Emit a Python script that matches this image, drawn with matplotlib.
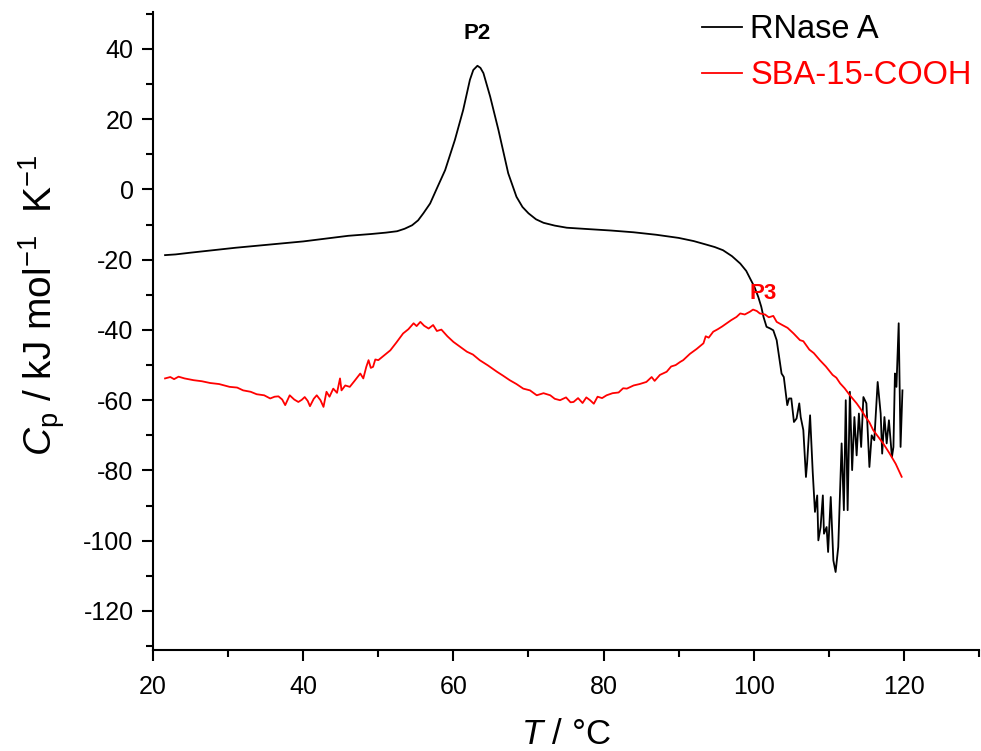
import matplotlib
matplotlib.use("Agg")
import matplotlib.pyplot as plt
from matplotlib.ticker import MultipleLocator

plt.rcParams['font.family'] = ['Liberation Sans', 'DejaVu Sans']
plt.rcParams['mathtext.fontset'] = 'custom'
plt.rcParams['mathtext.rm'] = 'Liberation Sans'
plt.rcParams['mathtext.it'] = 'Liberation Sans:italic'
plt.rcParams['mathtext.bf'] = 'Liberation Sans:bold'
plt.rcParams['axes.unicode_minus'] = False

# RNase A (black)
rnase_T = [21.6, 23, 25, 28, 31, 34, 37, 40, 43, 46, 49, 51, 52.5, 53.5, 54.5, 55.3, 56.0, 56.9,
           57.8, 58.9, 60.2, 61.3, 62.2, 62.65, 63.2, 63.6, 64.0, 64.9, 66.0, 67.3, 68.4, 69.2,
           70.0, 71.0, 72.0, 73.5, 75.1, 78, 81, 84, 87, 90, 92, 93.5, 94.8, 95.9, 97.1, 98.2,
           99.0, 99.5, 100.1, 100.6, 101.0, 101.3, 101.7, 102.2, 102.6,
           103.05, 103.7, 104.0, 104.46, 104.7, 105.0, 105.35, 105.7, 106.06, 106.25, 106.6,
           106.95, 107.1, 107.5, 107.85, 108.15, 108.45, 108.6, 108.9, 109.2, 109.35, 109.7,
           109.9, 110.25, 110.6, 110.9, 111.25, 111.7, 112.0, 112.25, 112.5, 112.8, 113.1,
           113.4, 113.7, 114.0, 114.3, 114.6, 115.0, 115.4, 115.7, 116.05, 116.5, 116.9, 117.1,
           117.4, 117.7, 118.0, 118.4, 118.6, 118.8, 119.0, 119.3, 119.55, 119.8]
rnase_Cp = [-18.7, -18.5, -18.0, -17.3, -16.6, -16.0, -15.4, -14.8, -14.0, -13.2, -12.7, -12.3,
            -11.9, -11.2, -10.2, -8.8, -6.8, -4.0, 0.3, 5.5, 14.1, 22.6, 31.2, 34.0, 35.2, 34.6,
            33.1, 26.4, 16.9, 4.6, -2.1, -5.0, -6.8, -8.5, -9.5, -10.3, -10.9, -11.3, -11.7,
            -12.2, -12.9, -13.8, -14.7, -15.6, -16.4, -17.3, -19.0, -21.1, -23.2, -25.3, -27.8,
            -30.6, -33.4, -36.3, -39.1, -39.6, -40.1,
            -42.9, -52.4, -53.4, -61.4, -59.5, -59.5, -66.2, -65.2, -60.9, -64.8, -68.5,
            -81.85, -78.0, -64.3, -80.4, -91.8, -87.1, -99.9, -96.1, -87.1, -98.0, -96.1,
            -103.2, -87.55, -105.6, -108.9, -101.8, -72.3, -91.3, -60.0, -91.3, -57.6, -79.9,
            -64.8, -75.7, -63.8, -73.3, -59.1, -60.9, -79.0, -70.0, -71.4, -54.8, -63.8, -75.2,
            -64.8, -72.3, -65.7, -76.2, -73.3, -52.4, -56.2, -38.1, -73.3, -57.2]

# SBA-15-COOH (red)
sba_T = [21.6, 22.3, 22.8, 23.4, 24.2, 25.4, 26.5, 27.6, 28.8, 30.2, 31.2, 32.0, 33.0, 33.8, 34.8,
         35.6, 36.2, 36.7, 37.2, 37.6, 38.2, 38.8, 39.35, 39.8, 40.2, 40.6, 40.9, 41.4, 41.8,
         42.3, 42.7, 43.1, 43.5, 44.0, 44.5, 44.9, 45.1, 45.6, 46.2, 46.8, 47.6, 48.0, 48.4,
         48.7, 49.0, 49.3, 49.6, 50.0, 50.8, 51.6, 52.4, 53.3, 54.0, 54.7, 55.1, 55.6, 56.1,
         56.7, 57.3, 57.8, 58.4, 59.2, 60.0, 60.9, 61.8, 62.6, 63.5, 64.6, 65.8, 66.6, 67.5,
         68.4, 69.3, 70.2, 71.1, 72.0, 72.9, 73.5, 74.2, 75.0, 75.6, 76.0, 76.6, 77.2, 77.7,
         78.2, 78.7, 79.2, 79.8, 80.4, 81.2, 82.0, 82.6, 83.1, 84.0, 84.8, 85.7, 86.4, 86.8,
         87.5, 88.4, 89.0, 89.6, 90.2, 90.6, 91.5, 92.4, 93.3, 93.6, 94.0, 94.6, 95.2, 95.8,
         96.4, 97.0, 97.7, 98.2, 98.8, 99.5, 99.9, 100.4, 100.8, 101.5, 102.0, 102.6, 103.05,
         103.8, 104.5, 105.3, 106.15, 106.6, 107.4, 108.0, 108.8, 109.6, 110.5, 111.0, 111.5,
         112.1, 112.8, 113.7, 114.2, 114.9, 115.4, 115.9, 116.5, 117.3, 118.1, 118.9, 119.7]
sba_Cp = [-53.8, -53.4, -54.0, -53.3, -53.8, -54.3, -54.6, -55.1, -55.4, -56.2, -56.4, -57.2,
          -57.6, -58.3, -58.6, -59.5, -59.0, -58.9, -59.8, -61.4, -58.6, -59.8, -60.5, -59.9,
          -59.1, -60.2, -61.7, -59.6, -58.6, -60.0, -61.9, -57.6, -59.0, -56.7, -57.9, -53.8,
          -57.2, -55.8, -56.2, -54.6, -52.4, -53.8, -50.5, -48.6, -50.8, -50.5, -48.4, -48.6,
          -47.2, -45.8, -43.6, -41.0, -39.8, -38.1, -38.9, -37.7, -38.8, -39.6, -38.6, -40.3,
          -39.9, -41.8, -43.4, -44.8, -46.2, -47.0, -48.6, -50.1, -51.9, -53.0, -54.3, -55.4,
          -56.7, -57.2, -58.6, -58.0, -58.6, -59.6, -60.0, -59.2, -60.6, -60.5, -59.4, -60.8,
          -59.2, -60.0, -61.0, -59.0, -59.4, -58.6, -58.0, -57.8, -56.6, -56.7, -55.8, -55.4,
          -54.8, -53.4, -54.5, -52.8, -51.9, -50.4, -50.0, -49.1, -48.6, -46.8, -45.4, -43.8,
          -41.8, -42.2, -40.5, -39.8, -39.0, -38.1, -37.2, -36.3, -35.3, -35.6, -34.8, -34.2,
          -34.6, -35.3, -35.6, -36.4, -36.0, -37.7, -38.6, -39.4, -41.0, -42.9, -43.2, -45.6,
          -46.6, -48.6, -50.4, -52.8, -53.6, -55.2, -56.6, -58.6, -60.9, -62.4, -64.8, -66.3,
          -68.5, -70.2, -72.5, -75.2, -78.1, -81.8]

x_ticks = [20, 40, 60, 80, 100, 120]
y_ticks = [-120, -100, -80, -60, -40, -20, 0, 20, 40]

fig = plt.figure(figsize=(9.81, 7.51), dpi=100)
ax = fig.add_axes([0.156, 0.1345, 0.842, 0.8495])

ax.plot(rnase_T, rnase_Cp, color='black', lw=1.3, label='RNase A')
ax.plot(sba_T, sba_Cp, color='red', lw=1.3, label='SBA-15-COOH')

ax.set_xlim(20, 130)
ax.set_ylim(-131.1, 50.5)
ax.set_xticks(x_ticks)
ax.set_yticks(y_ticks)
ax.xaxis.set_minor_locator(MultipleLocator(10))
ax.yaxis.set_minor_locator(MultipleLocator(10))

for s in ['top', 'right']:
    ax.spines[s].set_visible(False)
for s in ['left', 'bottom']:
    ax.spines[s].set_linewidth(1.5)

ax.tick_params(which='major', direction='out', length=8, width=1.5, labelsize=18)
ax.tick_params(axis='x', which='major', pad=10)
ax.tick_params(axis='y', which='major', pad=6)
ax.tick_params(which='minor', direction='out', length=5, width=1.5)

ax.set_xlabel(r'$T$ / °C', fontsize=25, labelpad=14)
ax.set_ylabel(r'$C_\mathrm{p}$ / kJ mol$^{-1}$  K$^{-1}$', fontsize=28)
ax.yaxis.set_label_coords(-0.104, 0.54)

ax.text(63.2, 41.5, 'P2', fontsize=16, fontweight='bold', color='black', ha='center', va='bottom')
ax.text(101.2, -32.5, 'P3', fontsize=16, fontweight='bold', color='red', ha='center', va='bottom')

leg = ax.legend(loc='upper right', bbox_to_anchor=(1.015, 1.027), frameon=False, fontsize=23.5,
                handlelength=1.25, handletextpad=0.25, labelspacing=0.45, labelcolor='linecolor',
                borderaxespad=0.2)

fig.savefig('out.png', dpi=100)
